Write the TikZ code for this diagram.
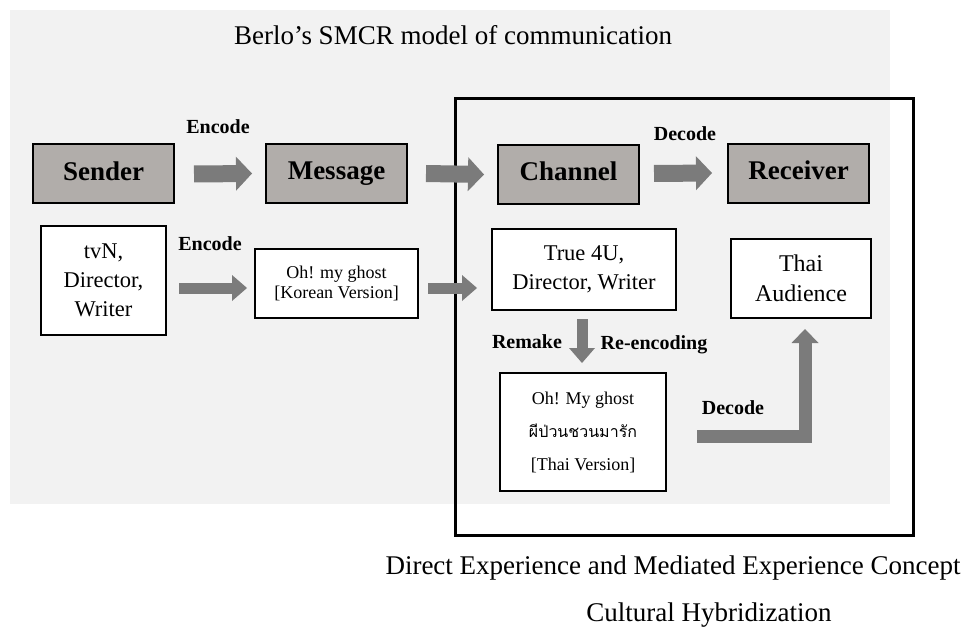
\documentclass[tikz,border=0pt]{standalone}
\usepackage{fontspec}
\setmainfont{Liberation Serif}
\newfontfamily\thaifont[Script=Thai]{Loma}
\usetikzlibrary{arrows.meta,calc}
\definecolor{bggray}{HTML}{F2F2F2}
\definecolor{hdrfill}{HTML}{B1ADAA}
\definecolor{arrgray}{HTML}{7B7B7B}
\begin{document}
\begin{tikzpicture}[x=1pt,y=-1pt,
  hdr/.style={draw=black, line width=2pt, fill=hdrfill, font=\fontsize{27}{32}\selectfont\bfseries,
    minimum width=141pt, minimum height=59pt, inner sep=0pt, text height=18pt, text depth=5pt},
  wbox/.style={draw=black, line width=2pt, fill=white, align=center, inner sep=0pt},
  lbl/.style={font=\fontsize{20}{24}\selectfont\bfseries, inner sep=0pt, text height=13.4pt, text depth=0pt},
  bigtxt/.style={font=\fontsize{27}{32}\selectfont, inner sep=0pt, text height=18pt, text depth=0pt},
  barrow/.style={draw=arrgray, line width=17pt, -{Triangle[length=16pt,width=34pt,line width=0pt]}},
  sarrow/.style={draw=arrgray, line width=11pt, -{Triangle[length=15pt,width=26pt,line width=0pt]}},
  earrow/.style={draw=arrgray, line width=13pt, line join=miter, -{Triangle[length=14pt,width=27pt,line width=0pt]}}
]
\useasboundingbox (0,0) rectangle (968,628);
\fill[bggray] (10,10) rectangle (890,504);
\draw[line width=3pt] (455,99) rectangle (913,535);

\node[bigtxt] (title) at (453,36) {Berlo’s SMCR model of communication};

\node[hdr] (sender) at (103.5,174) {Sender};
\node[hdr] (message) at (336.5,173.5) {Message};
\node[hdr] (channel) at (568.5,174.5) {Channel};
\node[hdr] (receiver) at (798.5,173.5) {Receiver};

\node[wbox, minimum width=125pt, minimum height=109pt, font=\fontsize{22.5}{29}\selectfont] (tvn) at (103.5,280.5) {tvN,\\Director,\\Writer};
\node[wbox, minimum width=163pt, minimum height=69pt, font=\fontsize{18}{20.5}\selectfont] (korean) at (336.5,283.5) {Oh! my ghost\\{[}Korean Version{]}};
\node[wbox, minimum width=184pt, minimum height=81pt, font=\fontsize{22.5}{29}\selectfont] (true) at (584,269.5) {True 4U,\\Director, Writer};
\node[wbox, minimum width=140pt, minimum height=79pt, font=\fontsize{24}{30}\selectfont] (audience) at (801,278.5) {Thai\\Audience};
\node[wbox, minimum width=166pt, minimum height=118pt, font=\fontsize{18}{33}\selectfont] (thaiver) at (583,432) {Oh! My ghost\\{\thaifont\fontsize{16}{33}\selectfont ผีป่วนชวนมารัก}\\{[}Thai Version{]}};

\node[lbl] (enc1) at (218,127) {Encode};
\node[lbl] (enc2) at (210,244) {Encode};
\node[lbl] (dec1) at (685,134) {Decode};
\node[lbl] (remake) at (527,342) {Remake};
\node[lbl] (reenc) at (654,343) {Re-encoding};
\node[lbl] (dec2) at (733,408) {Decode};

\draw[barrow] ($(sender.east)+(19,0)$) -- ($(message.west)+(-13,0)$);
\draw[barrow] ($(message.east)+(18,0)$) -- ($(channel.west)+(-13,0)$);
\draw[barrow] ($(channel.east)+(14,-1)$) -- ($(receiver.west)+(-15,-0.5)$);
\draw[sarrow] ($(tvn.east)+(12,7.5)$) -- ($(korean.west)+(-7,4.5)$);
\draw[sarrow] ($(korean.east)+(9,4.5)$) -- ($(true.west)+(-14,18.5)$);
\draw[sarrow] ($(true.south)+(-2,8)$) -- ($(thaiver.north)+(-1,-9)$);
\draw[earrow] ($(thaiver.east)+(30,4.5)$) -| ($(audience.south)+(4,10)$);

\node[bigtxt] (direct) at (673,565) {Direct Experience and Mediated Experience Concept};
\node[bigtxt] (hybrid) at (709,612) {Cultural Hybridization};
\end{tikzpicture}
\end{document}
